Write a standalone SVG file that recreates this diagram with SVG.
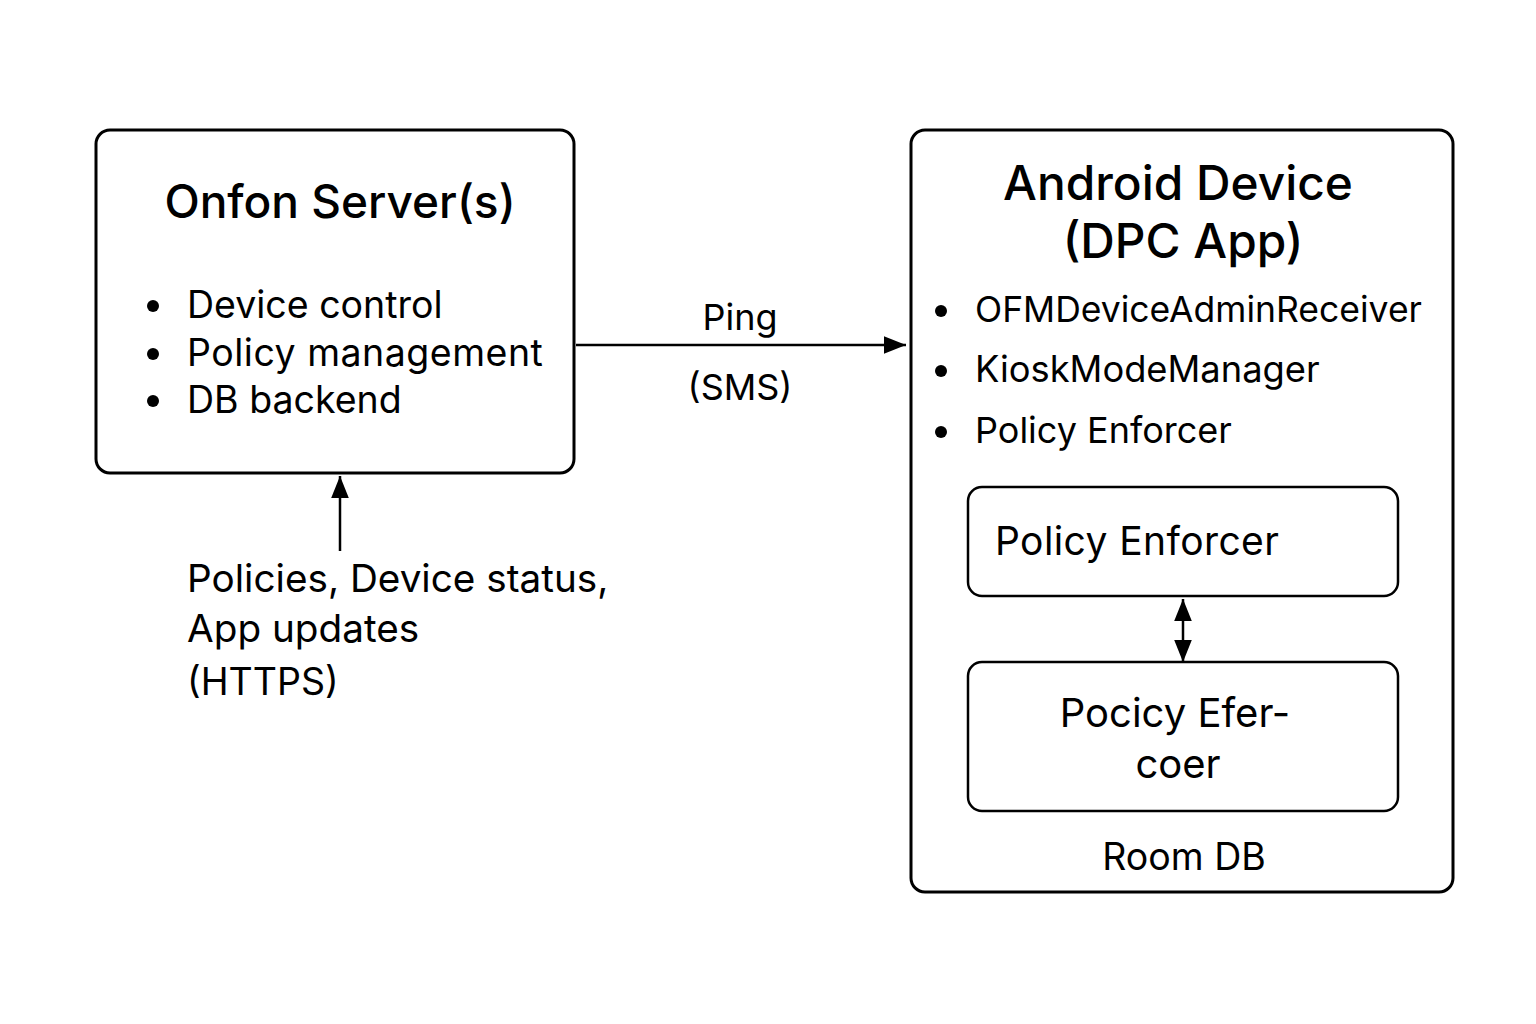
<svg xmlns="http://www.w3.org/2000/svg" width="1536" height="1024" viewBox="0 0 1536 1024">
<style>
text{font-family:Inter,"Noto Sans","Liberation Sans",sans-serif;fill:#000}
.box{fill:#fff;stroke:#000;stroke-width:3}
.inner{fill:#fff;stroke:#000;stroke-width:2.5}
.title{font-weight:500}
.conn{stroke:#000;stroke-width:2.5;fill:none}
</style>
<defs>
<marker id="ah2" viewBox="0 0 10 10" refX="10" refY="5" markerWidth="22" markerHeight="22" markerUnits="userSpaceOnUse" orient="auto-start-reverse">
<path d="M0,1 L10,5 L0,9 z" fill="#000"/>
</marker>
</defs>
<rect width="1536" height="1024" fill="#fff"/>
<g id="server">
<rect class="box" x="96" y="130" width="478" height="343" rx="14"/>
<text class="title" x="340" y="218" text-anchor="middle" font-size="46">Onfon Server(s)</text>
<circle cx="153" cy="306" r="6"/>
<circle cx="153" cy="354" r="6"/>
<circle cx="153" cy="401" r="6"/>
<text x="187" y="318" font-size="37.5">Device control</text>
<text x="187" y="366" font-size="37.5" letter-spacing="0.5">Policy management</text>
<text x="187" y="413" font-size="37.5">DB backend</text>
</g>
<g id="android">
<rect class="box" x="911" y="130" width="542" height="762" rx="14"/>
<text class="title" x="1178" y="200" text-anchor="middle" font-size="47.8">Android Device</text>
<text class="title" x="1183" y="258" text-anchor="middle" font-size="47.8">(DPC App)</text>
<circle cx="941" cy="311" r="6"/>
<circle cx="941" cy="371" r="6"/>
<circle cx="941" cy="432" r="6"/>
<text x="975" y="322" font-size="35.5">OFMDeviceAdminReceiver</text>
<text x="975" y="382" font-size="36.3">KioskModeManager</text>
<text x="975" y="443" font-size="36">Policy Enforcer</text>
<text x="1184" y="870" text-anchor="middle" font-size="37.5">Room DB</text>
</g>
<g id="enforcer">
<rect class="inner" x="968" y="487" width="430" height="109" rx="14"/>
<text x="995" y="555" font-size="39" letter-spacing="0.4">Policy Enforcer</text>
</g>
<g id="roomdb">
<rect class="inner" x="968" y="662" width="430" height="149" rx="14"/>
<text x="1175" y="727" text-anchor="middle" font-size="40">Pocicy Efer-</text>
<text x="1178" y="778" text-anchor="middle" font-size="40">coer</text>
</g>
<g id="connectors">
<line class="conn" x1="576" y1="345" x2="906" y2="345" marker-end="url(#ah2)"/>
<text x="740" y="330" text-anchor="middle" font-size="36">Ping</text>
<text x="740" y="400" text-anchor="middle" font-size="36">(SMS)</text>
<line class="conn" x1="340" y1="551" x2="340" y2="476" marker-end="url(#ah2)"/>
<text x="187" y="592" font-size="38.7">Policies, Device status,</text>
<text x="187" y="642" font-size="38.7">App updates</text>
<text x="187" y="695" font-size="37.5">(HTTPS)</text>
<line class="conn" x1="1183" y1="599" x2="1183" y2="662" marker-start="url(#ah2)" marker-end="url(#ah2)"/>
</g>
</svg>
